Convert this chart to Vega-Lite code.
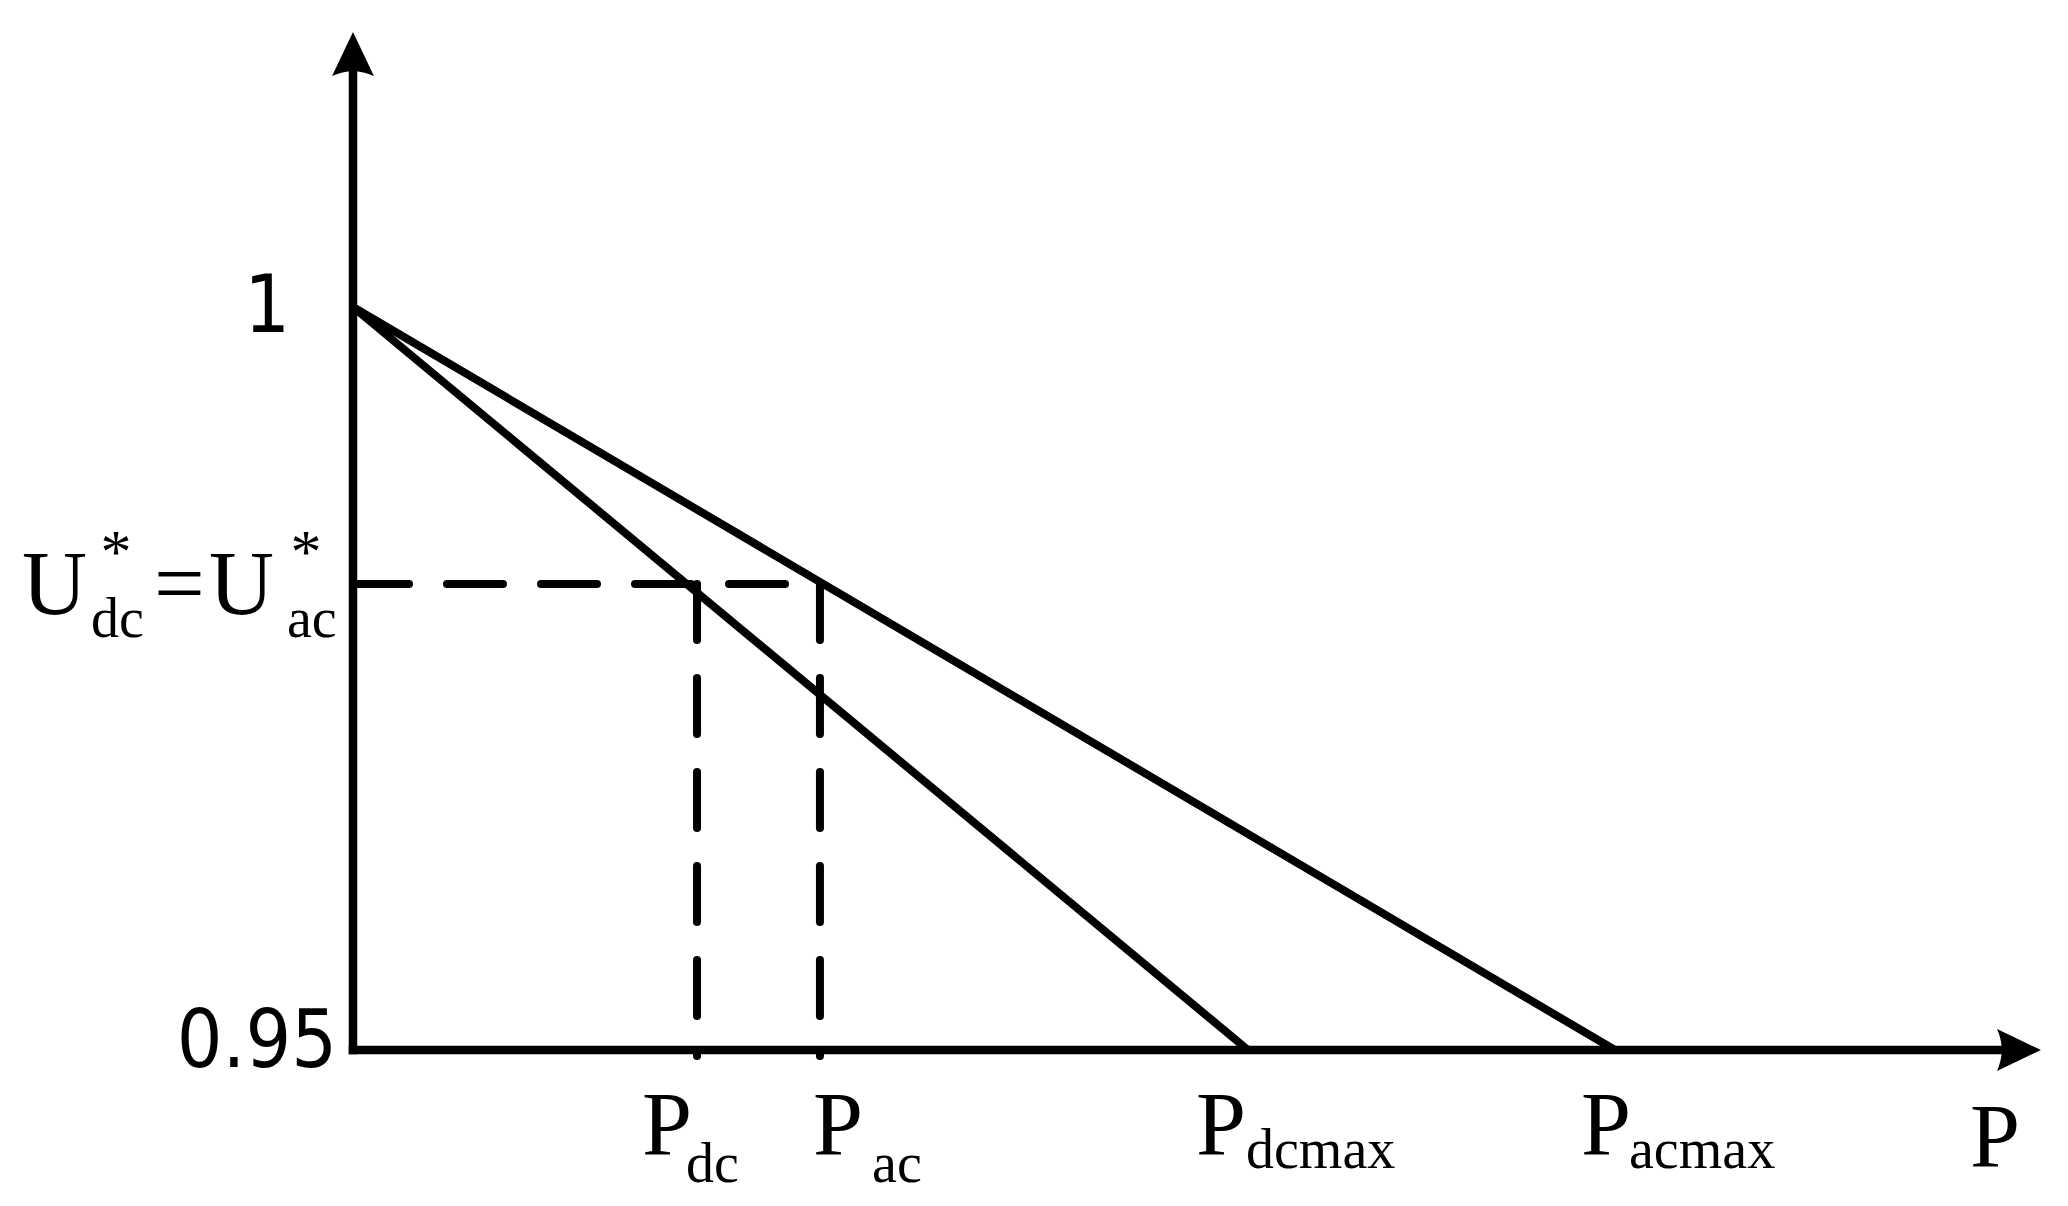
{
  "$schema": "https://vega.github.io/schema/vega-lite/v6.json",
  "width": 1689,
  "height": 1017,
  "autosize": {"type": "none"},
  "padding": {"left": 353, "top": 33, "right": 26, "bottom": 156},
  "background": "white",
  "config": {"view": {"stroke": null}},
  "datasets": {
    "axes": [
      {"x": 0, "y": 0.95, "x2": 0, "y2": 1.01595},
      {"x": 0, "y": 0.95, "x2": 1.3051, "y2": 0.95}
    ],
    "droop": [
      {"series": "dc", "x": 0, "y": 1.0, "x2": 0.7092, "y2": 0.95},
      {"series": "ac", "x": 0, "y": 1.0, "x2": 1.0, "y2": 0.95}
    ],
    "guides": [
      {"x": 0, "y": 0.98136, "x2": 0.37, "y2": 0.98136},
      {"x": 0.2726, "y": 0.98136, "x2": 0.2726, "y2": 0.9496},
      {"x": 0.37, "y": 0.98136, "x2": 0.37, "y2": 0.9496}
    ],
    "yarrow": [{"x": 0, "y": 1.01696}],
    "xarrow": [{"x": 1.3193, "y": 0.95}],
    "ticklabels": [
      {"x": -0.0499, "y": 0.99832, "text": "1"},
      {"x": -0.0127, "y": 0.94886, "text": "0.95"}
    ],
    "letters": [
      {"x": -0.2623, "y": 0.97934, "text": "U"},
      {"x": -0.1577, "y": 0.97934, "text": "="},
      {"x": -0.1141, "y": 0.97934, "text": "U"},
      {"x": 0.229, "y": 0.94293, "text": "P"},
      {"x": 0.3645, "y": 0.94293, "text": "P"},
      {"x": 0.668, "y": 0.94293, "text": "P"},
      {"x": 0.9731, "y": 0.94293, "text": "P"},
      {"x": 1.2813, "y": 0.94213, "text": "P"}
    ],
    "subs": [
      {"x": -0.2076, "y": 0.97779, "text": "dc"},
      {"x": -0.0523, "y": 0.97779, "text": "ac"},
      {"x": 0.2639, "y": 0.94112, "text": "dc"},
      {"x": 0.4113, "y": 0.94112, "text": "ac"},
      {"x": 0.7076, "y": 0.94206, "text": "dcmax"},
      {"x": 1.0111, "y": 0.94206, "text": "acmax"}
    ],
    "stars": [
      {"x": -0.1878, "y": 0.98217, "text": "*"},
      {"x": -0.0372, "y": 0.98217, "text": "*"}
    ]
  },
  "encoding": {
    "x": {"field": "x", "type": "quantitative", "scale": {"domain": [0, 1.33835], "nice": false, "zero": false}, "axis": null},
    "y": {"field": "y", "type": "quantitative", "scale": {"domain": [0.95, 1.01844], "nice": false, "zero": false}, "axis": null}
  },
  "layer": [
    {
      "data": {"name": "guides"},
      "mark": {"type": "rule", "color": "black", "strokeWidth": 8, "strokeDash": [56, 38], "strokeCap": "round"},
      "encoding": {"x2": {"field": "x2"}, "y2": {"field": "y2"}}
    },
    {
      "data": {"name": "droop"},
      "mark": {"type": "rule", "color": "black", "strokeWidth": 8, "strokeCap": "butt"},
      "encoding": {"x2": {"field": "x2"}, "y2": {"field": "y2"}}
    },
    {
      "data": {"name": "axes"},
      "mark": {"type": "rule", "color": "black", "strokeWidth": 8.5, "strokeCap": "square"},
      "encoding": {"x2": {"field": "x2"}, "y2": {"field": "y2"}}
    },
    {
      "data": {"name": "yarrow"},
      "mark": {"type": "point", "shape": "M0,-1 L0.91,0.91 Q0,0.5 -0.91,0.91 Z", "size": 2116, "filled": true, "color": "black", "opacity": 1, "strokeWidth": 0}
    },
    {
      "data": {"name": "xarrow"},
      "mark": {"type": "point", "shape": "M1,0 L-0.91,0.91 Q-0.5,0 -0.91,-0.91 Z", "size": 2116, "filled": true, "color": "black", "opacity": 1, "strokeWidth": 0}
    },
    {
      "data": {"name": "ticklabels"},
      "mark": {"type": "text", "font": "DejaVu Sans Condensed, DejaVu Sans", "fontSize": 80, "align": "right", "baseline": "alphabetic", "color": "black"},
      "encoding": {"text": {"field": "text"}}
    },
    {
      "data": {"name": "letters"},
      "mark": {"type": "text", "font": "Liberation Serif", "fontSize": 90, "align": "left", "baseline": "alphabetic", "color": "black"},
      "encoding": {"text": {"field": "text"}}
    },
    {
      "data": {"name": "subs"},
      "mark": {"type": "text", "font": "Liberation Serif", "fontSize": 56, "align": "left", "baseline": "alphabetic", "color": "black"},
      "encoding": {"text": {"field": "text"}}
    },
    {
      "data": {"name": "stars"},
      "mark": {"type": "text", "font": "Liberation Serif", "fontSize": 62, "align": "center", "baseline": "alphabetic", "color": "black"},
      "encoding": {"text": {"field": "text"}}
    }
  ]
}
